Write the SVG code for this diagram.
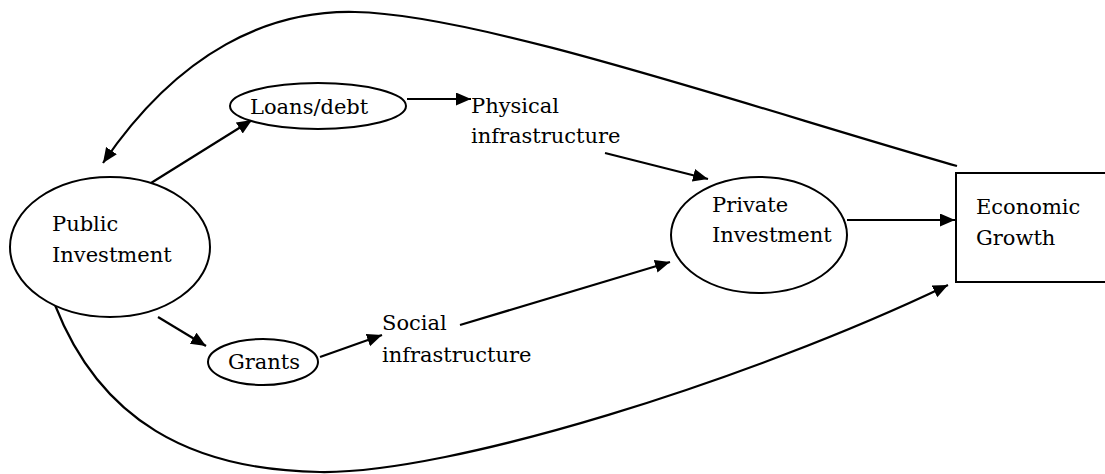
<svg xmlns="http://www.w3.org/2000/svg" width="1105" height="474" viewBox="0 0 1105 474" font-family="DejaVu Serif, serif">
<defs>
<style>
.n{fill:#fff;stroke:#000;stroke-width:2}
.t{font-size:21px;fill:#000}
.c{fill:none;stroke:#000;stroke-width:2.2}
</style>
<marker id="ah" markerUnits="userSpaceOnUse" markerWidth="16" markerHeight="14" refX="15" refY="6.5" orient="auto">
<path d="M0,0 L15,6.5 L0,13 z" fill="#000"/>
</marker>
</defs>
<rect width="1105" height="474" fill="#fff"/>
<g id="connectors">
<path class="c" d="M957,166 C760,110 480,14 355,12 C270,10 180,50 103,163" marker-end="url(#ah)"/>
<path class="c" d="M55,305 C100,420 190,470 320,472 C450,474 750,380 948,285" marker-end="url(#ah)"/>
<line class="c" x1="143" y1="188" x2="252" y2="120" marker-end="url(#ah)"/>
<line class="c" x1="407" y1="99" x2="471" y2="99" marker-end="url(#ah)"/>
<line class="c" x1="158" y1="317" x2="206" y2="346" marker-end="url(#ah)"/>
<line class="c" x1="320" y1="357" x2="382" y2="335" marker-end="url(#ah)"/>
<line class="c" x1="605" y1="153" x2="708" y2="179" marker-end="url(#ah)"/>
<line class="c" x1="460" y1="325" x2="670" y2="262" marker-end="url(#ah)"/>
<line class="c" x1="847" y1="220" x2="955" y2="220" marker-end="url(#ah)"/>
</g>
<g id="public-investment">
<ellipse class="n" cx="110" cy="247" rx="100" ry="70"/>
<text class="t" x="52" y="231">Public</text>
<text class="t" x="52" y="262">Investment</text>
</g>
<g id="loans-debt">
<ellipse class="n" cx="318" cy="106" rx="88" ry="23"/>
<text class="t" x="250" y="114">Loans/debt</text>
</g>
<g id="physical-infrastructure">
<text class="t" x="471" y="113">Physical</text>
<text class="t" x="471" y="143">infrastructure</text>
</g>
<g id="grants">
<ellipse class="n" cx="263" cy="362" rx="55" ry="23"/>
<text class="t" x="228" y="369">Grants</text>
</g>
<g id="social-infrastructure">
<text class="t" x="382" y="330">Social</text>
<text class="t" x="382" y="362">infrastructure</text>
</g>
<g id="private-investment">
<ellipse class="n" cx="759" cy="235" rx="88" ry="58"/>
<text class="t" x="712" y="212">Private</text>
<text class="t" x="712" y="242">Investment</text>
</g>
<g id="economic-growth">
<rect class="n" x="956" y="173" width="160" height="109"/>
<text class="t" x="976" y="214">Economic</text>
<text class="t" x="976" y="245">Growth</text>
</g>
</svg>
